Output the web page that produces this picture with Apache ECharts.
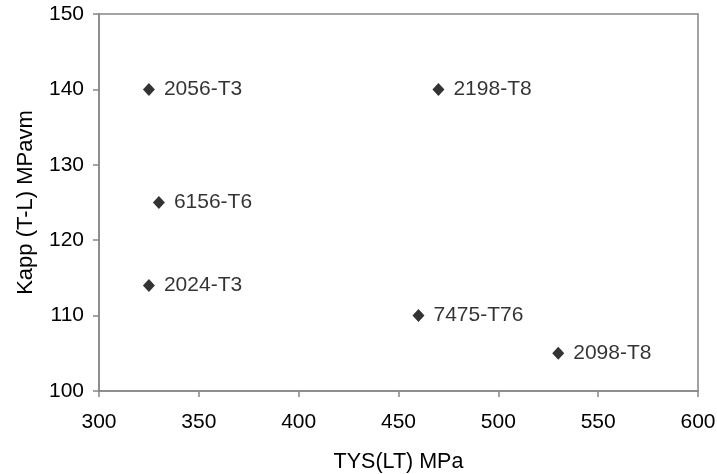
<!DOCTYPE html>
<html>
<head>
<meta charset="utf-8">
<script src="https://cdn.jsdelivr.net/npm/echarts@6/dist/echarts.min.js"></script>
<style>
  html, body { margin: 0; padding: 0; background: #fff; }
  #chart { width: 717px; height: 474px; }
</style>
</head>
<body>
<div id="chart"></div>
<script>
// Alloy tempers: tensile yield strength vs. apparent toughness
const alloys = ['2056-T3', '2198-T8', '6156-T6', '2024-T3', '7475-T76', '2098-T8'];
const tysValues = [325, 470, 330, 325, 460, 530];
const kappValues = [140, 140, 125, 114, 110, 105];

const xTicks = { min: 300, max: 600, interval: 50 };
const yTicks = { min: 100, max: 150, interval: 10 };

const points = alloys.map((name, i) => ({ name: name, value: [tysValues[i], kappValues[i]] }));

const font = 'Liberation Sans, Arial, sans-serif';
const axisGray = '#868686';

const chart = echarts.init(document.getElementById('chart'), null, { renderer: 'canvas' });
chart.setOption({
  animation: false,
  backgroundColor: '#ffffff',
  grid: {
    left: 99, right: 19, top: 14, bottom: 83,
    containLabel: false,
    outerBoundsMode: 'none',
    show: true, borderColor: axisGray, borderWidth: 1.5, backgroundColor: 'transparent'
  },
  xAxis: {
    type: 'value',
    min: xTicks.min, max: xTicks.max, interval: xTicks.interval,
    name: 'TYS(LT) MPa',
    nameLocation: 'middle',
    nameGap: 60,
    nameTextStyle: { fontFamily: font, fontSize: 21.5, color: '#000' },
    axisLine: { show: true, lineStyle: { color: axisGray, width: 1.5 } },
    axisTick: { show: true, length: 6, lineStyle: { color: axisGray, width: 1.5 } },
    axisLabel: { fontFamily: font, fontSize: 21, color: '#000', margin: 21 },
    splitLine: { show: false }
  },
  yAxis: {
    type: 'value',
    min: yTicks.min, max: yTicks.max, interval: yTicks.interval,
    name: 'Kapp (T-L) MPavm',
    nameLocation: 'middle',
    nameGap: 62,
    nameRotate: 90,
    nameTextStyle: { fontFamily: font, fontSize: 22, color: '#000' },
    axisLine: { show: true, lineStyle: { color: axisGray, width: 1.5 } },
    axisTick: { show: true, length: 6, lineStyle: { color: axisGray, width: 1.5 } },
    axisLabel: { fontFamily: font, fontSize: 21, color: '#000', margin: 15 },
    splitLine: { show: false }
  },
  series: [{
    type: 'scatter',
    data: points,
    symbol: 'diamond',
    symbolSize: [12, 13],
    itemStyle: { color: '#000' },
    label: {
      show: true,
      position: 'right',
      distance: 9,
      formatter: p => p.name,
      fontFamily: font,
      fontSize: 21,
      color: '#000'
    }
  }]
});
</script>
</body>
</html>
